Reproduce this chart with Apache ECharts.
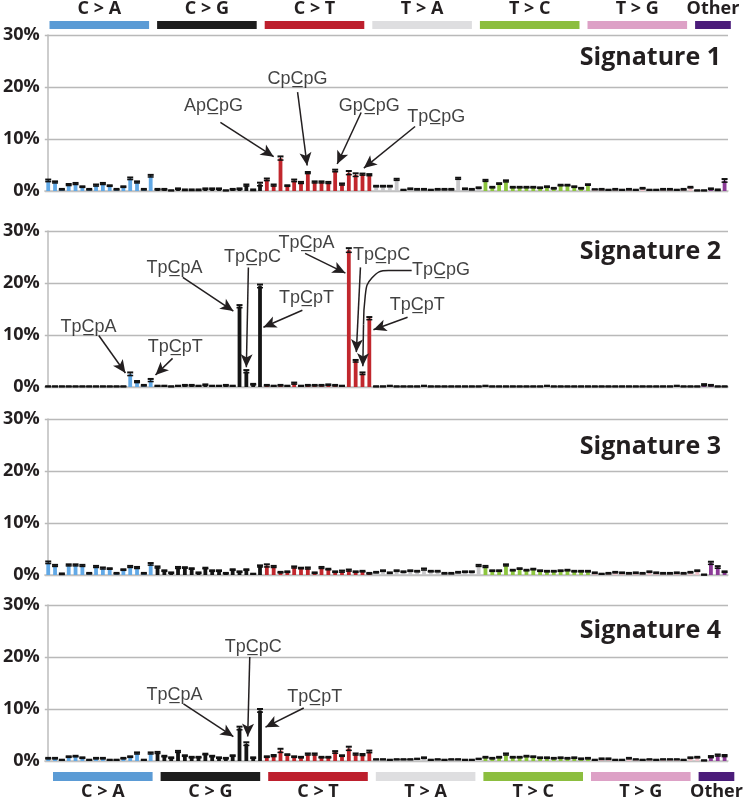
<!DOCTYPE html>
<html><head><meta charset="utf-8">
<script src="https://cdn.jsdelivr.net/npm/echarts@6/dist/echarts.min.js"></script>
<style>html,body{margin:0;padding:0;background:#fff}#c{width:747px;height:801px}</style>
</head><body><div id="c"></div>
<script>
// ---------------- data ----------------
const groupNames = ['C > A','C > G','C > T','T > A','T > C','T > G','Other'];
const groupSizes = [16,16,16,16,16,16,4];
const headerSpans = [16,16,16,16,16,16,6.5];
const flanks = ['A','C','G','T'];
const signatureNames = ['Signature 1','Signature 2','Signature 3','Signature 4'];
const yTicks = [0,10,20,30];

// category names (96 trinucleotide contexts + 4 "Other")
const categories = [];
groupNames.slice(0,6).forEach(g => flanks.forEach(a => flanks.forEach(b => categories.push(a + '[' + g.replace(/ /g,'') + ']' + b))));
['Other 1','Other 2','Other 3','Other 4'].forEach(o => categories.push(o));

// percentages, ordered C>A, C>G, C>T, T>A, T>C, T>G (16 each), Other (4)
const sig1 = [
  2.0,1.7,0.3,1.2,1.4,0.8,0.3,1.1,1.4,1.0,0.3,0.8,2.4,1.7,0.3,2.9,
  0.3,0.3,0.1,0.4,0.2,0.2,0.2,0.4,0.4,0.4,0.1,0.3,0.4,1.1,0.2,1.3,
  2.2,1.1,6.3,1.0,2.0,1.6,3.5,1.7,1.7,1.6,3.9,1.3,3.5,3.1,3.2,3.1,
  0.9,0.9,0.9,2.2,0.2,0.4,0.3,0.3,0.2,0.3,0.3,0.3,2.4,0.4,0.3,0.6,
  2.0,0.7,1.4,1.9,0.7,0.7,0.7,0.7,0.6,0.8,0.5,1.1,1.1,0.8,0.5,1.2,
  0.3,0.3,0.2,0.3,0.2,0.3,0.2,0.5,0.2,0.2,0.3,0.3,0.2,0.3,0.7,0.1,
  0.1,0.4,0.2,2.0];
const sig1Err = [
  0.2,0.15,0.1,0.15,0.15,0.1,0.1,0.15,0.15,0.1,0.1,0.1,0.2,0.15,0.1,0.2,
  0.1,0.1,0.05,0.1,0.1,0.1,0.1,0.1,0.1,0.1,0.05,0.1,0.1,0.15,0.1,0.3,
  0.2,0.15,0.35,0.1,0.2,0.15,0.15,0.15,0.15,0.15,0.2,0.15,0.35,0.3,0.15,0.15,
  0.1,0.1,0.1,0.15,0.05,0.1,0.1,0.1,0.05,0.1,0.1,0.1,0.15,0.1,0.1,0.1,
  0.15,0.1,0.1,0.15,0.1,0.1,0.1,0.1,0.1,0.1,0.1,0.1,0.1,0.1,0.1,0.1,
  0.05,0.1,0.05,0.1,0.05,0.1,0.05,0.1,0.05,0.05,0.1,0.1,0.05,0.1,0.1,0.05,
  0.05,0.1,0.1,0.3];

const sig2 = [
  0.1,0.1,0.1,0.1,0.1,0.1,0.1,0.1,0.1,0.1,0.1,0.1,2.5,1.0,0.3,1.3,
  0.2,0.2,0.1,0.2,0.3,0.3,0.2,0.4,0.2,0.2,0.3,0.2,15.5,3.0,0.5,19.4,
  0.3,0.2,0.3,0.2,0.7,0.2,0.3,0.3,0.3,0.4,0.3,0.2,26.3,5.0,2.6,13.2,
  0.1,0.1,0.2,0.1,0.1,0.1,0.1,0.2,0.1,0.1,0.1,0.1,0.1,0.1,0.1,0.1,
  0.2,0.1,0.1,0.1,0.1,0.1,0.1,0.1,0.1,0.2,0.1,0.1,0.1,0.1,0.1,0.1,
  0.1,0.1,0.1,0.1,0.1,0.1,0.1,0.1,0.1,0.1,0.1,0.1,0.2,0.1,0.1,0.1,
  0.4,0.3,0.1,0.1];
const sig2Err = [
  0.05,0.05,0.05,0.05,0.05,0.05,0.05,0.05,0.05,0.05,0.05,0.05,0.3,0.15,0.1,0.25,
  0.05,0.05,0.05,0.05,0.1,0.1,0.05,0.1,0.05,0.05,0.1,0.05,0.25,0.25,0.1,0.3,
  0.1,0.05,0.1,0.05,0.15,0.05,0.1,0.1,0.1,0.1,0.1,0.05,0.4,0.2,0.2,0.25,
  0.05,0.05,0.05,0.05,0.05,0.05,0.05,0.05,0.05,0.05,0.05,0.05,0.05,0.05,0.05,0.05,
  0.05,0.05,0.05,0.05,0.05,0.05,0.05,0.05,0.05,0.05,0.05,0.05,0.05,0.05,0.05,0.05,
  0.05,0.05,0.05,0.05,0.05,0.05,0.05,0.05,0.05,0.05,0.05,0.05,0.05,0.05,0.05,0.05,
  0.15,0.1,0.05,0.05];

const sig3 = [
  2.4,1.8,0.2,1.9,1.9,1.8,0.3,1.6,1.3,1.2,0.3,1.0,1.6,1.4,0.3,2.1,
  1.5,0.8,0.4,1.4,1.4,1.2,0.4,1.3,0.8,0.8,0.3,1.0,0.6,1.0,0.2,1.7,
  1.8,1.6,0.5,0.6,1.5,1.3,1.3,0.4,1.4,1.1,0.6,0.7,0.9,0.6,0.7,0.3,
  0.5,0.8,0.4,0.8,0.6,0.8,0.7,1.1,0.7,0.7,0.3,0.3,0.5,0.6,0.6,1.8,
  1.6,0.8,0.8,1.9,0.9,1.2,0.9,1.1,0.8,0.7,0.7,0.8,0.9,0.7,0.7,0.7,
  0.4,0.2,0.3,0.5,0.4,0.3,0.4,0.3,0.6,0.4,0.3,0.3,0.4,0.3,0.5,0.8,
  0.05,2.3,1.5,0.6];
const sig3Err = [
  0.2,0.15,0.1,0.15,0.15,0.15,0.1,0.15,0.15,0.1,0.1,0.1,0.15,0.15,0.1,0.2,
  0.15,0.1,0.1,0.15,0.1,0.1,0.1,0.1,0.1,0.1,0.1,0.1,0.1,0.1,0.05,0.15,
  0.25,0.15,0.1,0.1,0.15,0.1,0.15,0.1,0.15,0.1,0.1,0.15,0.15,0.1,0.1,0.1,
  0.1,0.1,0.1,0.1,0.1,0.1,0.1,0.15,0.1,0.1,0.1,0.1,0.1,0.1,0.1,0.15,
  0.15,0.1,0.1,0.15,0.1,0.1,0.1,0.1,0.1,0.1,0.1,0.1,0.1,0.1,0.1,0.1,
  0.1,0.05,0.1,0.1,0.1,0.1,0.1,0.1,0.1,0.1,0.1,0.1,0.1,0.1,0.1,0.1,
  0.05,0.25,0.2,0.1];

const sig4 = [
  0.5,0.5,0.2,0.8,0.9,0.6,0.2,0.5,0.5,0.2,0.2,0.5,0.8,1.5,0.2,1.5,
  1.6,0.9,0.6,1.8,1.0,0.7,0.7,1.3,0.9,0.6,0.5,1.0,6.3,3.3,0.6,9.7,
  0.8,1.0,2.0,1.2,0.8,0.7,1.3,1.3,0.7,0.7,1.7,1.0,2.4,1.3,1.2,1.8,
  0.3,0.3,0.2,0.3,0.3,0.3,0.4,0.6,0.2,0.3,0.2,0.3,0.3,0.2,0.2,0.4,
  0.7,0.5,0.7,1.3,0.7,0.7,0.9,0.8,0.6,0.6,0.5,0.6,0.5,0.6,0.4,0.5,
  0.2,0.4,0.4,0.2,0.2,0.5,0.3,0.2,0.3,0.2,0.3,0.3,0.3,0.2,0.6,0.7,
  0.1,0.8,1.1,1.0];
const sig4Err = [
  0.1,0.1,0.05,0.1,0.1,0.1,0.05,0.1,0.1,0.05,0.05,0.1,0.1,0.15,0.05,0.15,
  0.15,0.1,0.1,0.15,0.1,0.1,0.1,0.1,0.1,0.1,0.1,0.1,0.3,0.3,0.1,0.3,
  0.1,0.15,0.35,0.1,0.1,0.1,0.15,0.15,0.1,0.1,0.2,0.1,0.35,0.15,0.15,0.2,
  0.05,0.05,0.05,0.05,0.05,0.05,0.05,0.1,0.05,0.05,0.05,0.05,0.05,0.05,0.05,0.05,
  0.1,0.1,0.1,0.15,0.1,0.1,0.1,0.1,0.1,0.1,0.1,0.1,0.1,0.1,0.1,0.1,
  0.05,0.1,0.1,0.05,0.05,0.1,0.05,0.05,0.05,0.05,0.05,0.05,0.05,0.05,0.1,0.1,
  0.05,0.15,0.15,0.15];

const sigValues = [sig1, sig2, sig3, sig4];
const sigErrors = [sig1Err, sig2Err, sig3Err, sig4Err];

// annotations: panel, text, label position [catIndex, %], arrow from, arrow to
const annotations = [
  [0,'ApCpG',[24.2,16.3],[25.2,13.2],[33.0,6.6]],
  [0,'CpCpG',[36.5,21.5],[36.5,19.0],[37.9,4.9]],
  [0,'GpCpG',[47.0,16.3],[45.8,15.1],[42.3,5.2]],
  [0,'TpCpG',[56.8,14.3],[53.7,12.4],[46.2,4.4]],
  [1,'TpCpA',[5.9,11.5],[7.4,9.9],[11.3,2.7]],
  [1,'TpCpT',[18.6,7.6],[18.2,5.5],[15.7,2.3]],
  [1,'TpCpA',[18.5,22.8],[19.7,21.1],[27.1,14.6]],
  [1,'TpCpC',[29.9,24.9],[29.3,23.0],[29.0,3.8]],
  [1,'TpCpT',[37.8,17.1],[37.2,14.75],[31.5,11.5]],
  [1,'TpCpA',[37.8,27.6],[37.6,25.7],[43.5,21.9]],
  [1,'TpCpC',[48.8,25.3],[45.7,23.0],[45.1,6.7]],
  [1,'TpCpG',[57.5,22.4],[46.15,12.0],[46.05,4.0]],
  [1,'TpCpT',[54.0,15.7],[52.6,13.4],[47.6,11.0]],
  [3,'TpCpA',[18.5,12.7],[19.8,11.0],[27.1,4.7]],
  [3,'TpCpC',[30.0,21.9],[29.5,20.0],[29.2,4.7]],
  [3,'TpCpT',[39.0,12.3],[37.4,10.2],[31.8,6.5]]
];
// curved connector for TpCpG (panel 2)
const curvePath = [[53.2,22.4],[49.8,22.4],[47.4,21.0],[46.4,17.5],[46.15,12.0]];

// ---------------- styles / layout ----------------
const barColors = ['#62a9e6','#151515','#c1272d','#c8c8ca','#8dc63f','#f1c3cb','#8c3b97'];
const headerColors = ['#5b9bd5','#1d1d1d','#bd1f2d','#dedee0','#8cbe3f','#dda1c6','#4b1c7a'];
const panelTops = [35, 231, 419, 605];
const panelH = 156;
const titleTops = [40, 234, 429, 613];
const TXT = '#231f20';

function groupOf(i){ let s=0; for(let g=0; g<groupSizes.length; g++){ s+=groupSizes[g]; if(i<s) return g; } return groupSizes.length-1; }
function underlineC(t){ return t.slice(0,2) + t[2] + '\u0332' + t.slice(3); }

const grids = [], xAxes = [], yAxes = [], series = [], titles = [];
const nCat = categories.length;

panelTops.forEach((top, p) => {
  grids.push({left: 44, right: 19, top: top, height: panelH});
  xAxes.push({type:'value', gridIndex:p, min:-0.5, max:nCat-0.5,
    axisLine:{show:true, onZero:true, lineStyle:{color:'#c4c4c4', width:1.5}},
    axisTick:{show:false}, axisLabel:{show:false}, splitLine:{show:false}});
  yAxes.push({type:'value', gridIndex:p, min:yTicks[0], max:yTicks[yTicks.length-1], interval:10,
    axisLine:{show:true, lineStyle:{color:'#bdbdbd', width:1.5}},
    axisTick:{show:false},
    axisLabel:{formatter: v => v + '%', fontFamily:'Open Sans', fontWeight:'bold', fontSize:18, color:TXT, margin:5},
    splitLine:{show:true, lineStyle:{color:'#b9b9b9', width:1.3}}});
  titles.push({text: signatureNames[p], right: 21, top: titleTops[p],
    textStyle:{fontFamily:'Open Sans', fontWeight:'bold', fontSize:25, color:TXT}});

  const vals = sigValues[p], errs = sigErrors[p];
  const ann = annotations.filter(a => a[0] === p);
  series.push({
    type:'bar', xAxisIndex:p, yAxisIndex:p, barWidth:3.8,
    data: vals.map((v,i) => ({value:[i, v], itemStyle:{color: barColors[groupOf(i)]}})),
    markLine: {
      silent:true, symbol:['none','arrow'], symbolSize:[9,13],
      label:{show:false}, lineStyle:{color:TXT, width:1.5, type:'solid'},
      data: ann.map(a => [{coord:a[3]}, {coord:a[4]}])
    },
    z: 2
  });
  series.push({
    type:'custom', xAxisIndex:p, yAxisIndex:p, encode:{x:0, y:1},
    data: vals.map((v,i) => [i, v, errs[i]]),
    renderItem: (params, api) => {
      const x = api.value(0), v = api.value(1), e = api.value(2);
      const hi = api.coord([x, v + e]);
      const lo = api.coord([x, Math.max(0, v - e)]);
      const hw = 3;
      return {type:'group', children:[
        {type:'line', shape:{x1:hi[0], y1:hi[1], x2:lo[0], y2:lo[1]}, style:{stroke:'#111', lineWidth:1}},
        {type:'line', shape:{x1:hi[0]-hw, y1:hi[1], x2:hi[0]+hw, y2:hi[1]}, style:{stroke:'#111', lineWidth:2}},
        {type:'line', shape:{x1:lo[0]-hw, y1:lo[1], x2:lo[0]+hw, y2:lo[1]}, style:{stroke:'#111', lineWidth:1.5}}
      ]};
    },
    z: 3
  });
  if (ann.length) {
    series.push({
      type:'scatter', xAxisIndex:p, yAxisIndex:p, symbolSize:1, itemStyle:{color:'rgba(0,0,0,0)'},
      data: ann.map(a => [a[2][0], a[2][1], a[1]]),
      label:{show:true, position:'inside', formatter: q => underlineC(q.value[2]),
        fontFamily:'Liberation Sans', fontSize:18, color:'#111', textBorderWidth:0, textBorderColor:'transparent'},
      z: 5
    });
  }
  if (p === 1) {
    series.push({type:'line', xAxisIndex:p, yAxisIndex:p, data: curvePath, smooth:0.5, showSymbol:false,
      lineStyle:{color:TXT, width:1.5}, z:4});
  }
});

// header bands (top and bottom)
const headerDefs = [
  {left:45.5, top:17, height:16, barW:16, pos:'top', dist:-1},
  {left:49, top:768, height:17, barW:17, pos:'bottom', dist:-2}
];
const spanTotal = headerSpans.reduce((a,b)=>a+b,0);
headerDefs.forEach((h, k) => {
  const gi = grids.length;
  grids.push({left:h.left, width: spanTotal*6.725, top:h.top, height:h.height});
  xAxes.push({type:'value', gridIndex:gi, min:0, max:spanTotal, show:false});
  yAxes.push({type:'category', gridIndex:gi, data:['band'], show:false});
  headerSpans.forEach((s, g) => {
    series.push({type:'bar', xAxisIndex:gi, yAxisIndex:gi, stack:'hdr'+k, barWidth:h.barW,
      data:[s], itemStyle:{color:headerColors[g], borderColor:'#fff', borderWidth:4},
      label:{show:true, position:h.pos, distance:h.dist, formatter: groupNames[g],
        fontFamily:'Open Sans', fontWeight:'bold', fontSize:18, color:TXT},
      silent:true});
  });
});

const chart = echarts.init(document.getElementById('c'), null, {renderer:'canvas'});
chart.setOption({animation:false, backgroundColor:'#fff', title:titles, grid:grids, xAxis:xAxes, yAxis:yAxes, series:series});
</script>
</body></html>
